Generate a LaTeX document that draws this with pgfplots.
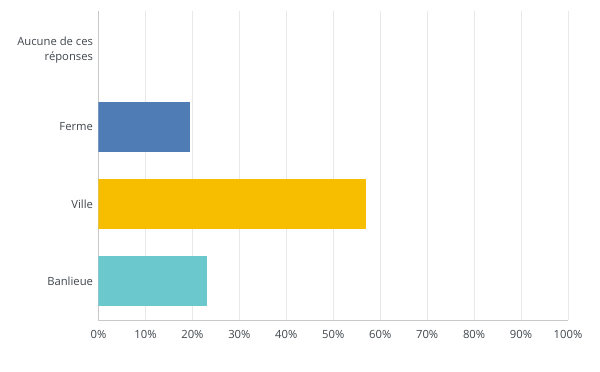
\documentclass[border=0pt]{standalone}
\usepackage{fontspec}
\setmainfont{Open Sans}
\usepackage{pgfplots}
\pgfplotsset{compat=1.18}
\definecolor{ferme}{HTML}{507CB6}
\definecolor{ville}{HTML}{F7BE00}
\definecolor{banlieue}{HTML}{6BC8CD}
\definecolor{gridc}{HTML}{E8E8E8}
\definecolor{axisc}{HTML}{C8C8C8}
\definecolor{txt}{HTML}{3F464D}
\begin{document}
\begin{tikzpicture}
\begin{axis}[
  name=ax, at={(0,0)}, anchor=south west,
  scale only axis, width=469.5bp, height=309bp,
  xbar, bar width=50bp, bar shift=0pt,
  xmin=0, xmax=100, ymin=-0.5, ymax=3.5,
  xtick={0,10,...,100},
  xticklabel={\pgfmathprintnumber{\tick}\%},
  /pgf/number format/assume math mode=true,
  ytick={0,1,2,3},
  yticklabels={Banlieue,Ville,Ferme,{Aucune de ces\\réponses}},
  yticklabel style={align=right, font=\fontsize{11.3}{15}\selectfont, text=txt, xshift=-2bp},
  xticklabel style={font=\fontsize{11.3}{12}\selectfont, text=txt, yshift=-7bp},
  major tick length=0pt,
  xmajorgrids, grid style={gridc, line width=0.8pt},
  axis line style={axisc, line width=1pt},
  axis x line*=bottom, axis y line*=left,
  separate axis lines,
  x axis line style={-}, y axis line style={-},
]
\addplot[fill=banlieue, draw=none] coordinates {(23.1,0)};
\addplot[fill=ville, draw=none] coordinates {(57.0,1)};
\addplot[fill=ferme, draw=none] coordinates {(19.5,2)};
\addplot[fill=white, draw=none] coordinates {(0,3)};
\end{axis}
\pgfresetboundingbox
\path (-98.5bp,-52bp) rectangle (501.5bp,320bp);
\end{tikzpicture}
\end{document}
